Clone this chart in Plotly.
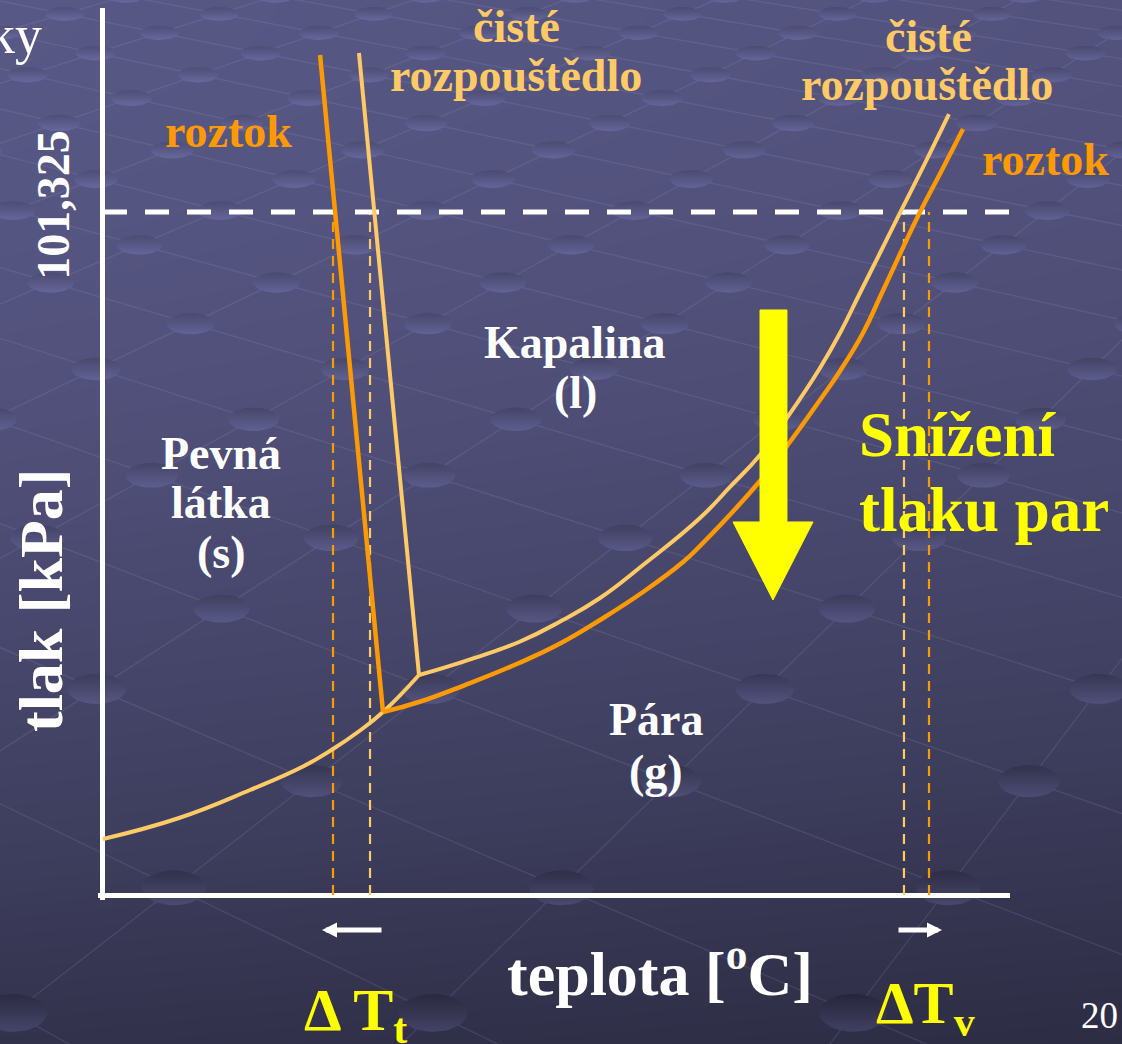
import numpy as np
import plotly.graph_objects as go

W, H = 1122, 1044
SERIF = "Liberation Serif"

# ---------------- phase diagram data ----------------
# temperature in diagram units (0-100), pressure in kPa
# sublimation curve of the pure solvent (solid-vapour), up to its triple point
subl_T = [0.0, 8.38, 16.21, 22.16, 25.36, 28.11, 30.87, 34.84]
subl_p = [8.31, 11.42, 15.58, 19.14, 21.66, 24.18, 27.15, 32.64]

# vapour-pressure curve of the pure solvent
vap_pure_T = [34.84, 39.91, 45.87, 50.50, 54.80, 59.54, 65.82, 69.13, 72.44,
              75.41, 79.05, 81.26, 83.46, 85.67, 87.87, 90.63, 93.27]
vap_pure_p = [32.64, 34.71, 37.53, 40.65, 44.06, 48.96, 55.93, 60.53, 65.28,
              70.77, 78.18, 83.37, 89.31, 95.24, 101.18, 108.59, 115.86]

# vapour-pressure curve of the solution
vap_sol_T = [30.87, 34.84, 39.91, 45.87, 50.50, 54.80, 59.54, 63.95, 65.82, 72.44,
             75.41, 79.05, 81.26, 83.79, 85.67, 87.87, 90.08, 92.50, 94.82]
vap_sol_p = [27.15, 28.63, 31.15, 34.42, 37.38, 40.80, 44.95, 49.40, 51.78, 61.42,
             66.61, 73.43, 77.74, 83.38, 88.71, 95.09, 101.32, 107.56, 113.64]

# melting curves (solid-liquid)
melt_pure_T = [34.84, 28.22]
melt_pure_p = [32.64, 124.91]
melt_sol_T = [30.87, 23.93]
melt_sol_p = [27.15, 124.62]

# normal pressure and the normal melting / boiling points
p_atm = 101.325
melt_points = {"roztok": 25.36, "rozpouštědlo": 29.44}
boil_points = {"rozpouštědlo": 88.31, "roztok": 91.07}

# big arrow: vapour pressure lowering
drop_T = [72.44, 75.41, 75.41, 78.28, 73.87, 69.46, 72.44, 72.44]
drop_p = [86.79, 86.79, 55.34, 55.34, 43.76, 55.34, 55.34, 86.79]

# ---------------- colours ----------------
C_PURE = "#FFC966"
C_SOL = "#FF9900"
C_WHITE = "#FFFFFF"
C_YELLOW = "#FFFF00"

# ---------------- axes geometry ----------------
X0_PX, X_UNIT = 103.0, 9.07           # pixel of T = 0, pixels per unit
Y0_PX, Y_UNIT = 895.0, 683.0 / 101.325  # pixel of p = 0, pixels per kPa
x_range = [-0.6, 100.0]
y_range = [-0.8, (Y0_PX - 8) / Y_UNIT]
x_domain = [(X0_PX + x_range[0] * X_UNIT) / W, (X0_PX + x_range[1] * X_UNIT) / W]
y_domain = [1 - (Y0_PX - y_range[0] * Y_UNIT) / H, 1 - (Y0_PX - y_range[1] * Y_UNIT) / H]

fig = go.Figure()


# ---------------- slide background ----------------
def shade(x, y):
    y = np.clip(y, 0, H)
    return 88 - 6 * (x / W) - 38 * (y / H) ** 1.7


def slate(level):
    level = float(level)
    return f"rgb({level:.0f},{level:.0f},{min(255.0, level * 1.52):.0f})"


gx = np.linspace(0, W, 24)
gy = np.linspace(0, H, 40)
GX, GY = np.meshgrid(gx, gy)
fig.add_trace(go.Heatmap(x=gx, y=gy, z=shade(GX, GY), zsmooth="best",
                         colorscale=[[0, slate(40)], [1, slate(90)]], zmin=40, zmax=90,
                         showscale=False, hoverinfo="skip", xaxis="x", yaxis="y"))

# perspective lattice of studs and their connecting lines
HORIZON = -567.0
ROW_K, ROW_Z0 = 18374.0, 12.63
COL_P, COL_SHEAR, COL_PHASE = 4888.0, 2050.0, 0.45


def lattice(i, n):
    z = ROW_Z0 + n
    return (COL_P * i + COL_SHEAR * n) / z, HORIZON + ROW_K / z


lx, ly = [], []
for k in range(-30, 31):
    for family in (0, 1):
        for n in range(-2, 80):
            i = k + COL_PHASE if family == 0 else k + COL_PHASE - n
            x, y = lattice(i, n)
            lx.append(x)
            ly.append(y)
        lx.append(None)
        ly.append(None)
fig.add_trace(go.Scatter(x=lx, y=ly, mode="lines", line=dict(color="rgba(165,165,215,0.15)", width=1.4),
                         hoverinfo="skip", xaxis="x", yaxis="y"))

theta = np.linspace(0, 2 * np.pi, 37)
for n in range(-1, 21):
    step = COL_P / (ROW_Z0 + n)
    w, h = 22 + 0.11 * step, 0.09 * step
    for k in range(-30, 31):
        cx, cy = lattice(k + COL_PHASE, n)
        if cx < -w or cx > W + w or cy < -h or cy > H + h:
            continue
        lvl = shade(cx, cy)
        fig.add_trace(go.Scatter(
            x=cx + w / 2 * np.cos(theta), y=cy + h / 2 * np.sin(theta),
            mode="lines", line=dict(width=0), fill="toself",
            fillgradient=dict(type="vertical", colorscale=[[0, slate(lvl + 17)], [1, slate(lvl - 9)]]),
            hoverinfo="skip", xaxis="x", yaxis="y"))

# ---------------- phase diagram ----------------
main = dict(xaxis="x2", yaxis="y2", hoverinfo="skip", mode="lines")
curve = dict(shape="spline", smoothing=1.3)

for name, t in list(melt_points.items()) + list(boil_points.items()):
    fig.add_trace(go.Scatter(x=[t, t], y=[0, p_atm],
                             line=dict(color=C_SOL if name == "roztok" else C_PURE, width=2.2, dash="10px,7px"),
                             **main))

fig.add_trace(go.Scatter(x=[0, 100], y=[p_atm, p_atm], line=dict(color=C_WHITE, width=5, dash="24px,18px"), **main))

fig.add_trace(go.Scatter(x=subl_T, y=subl_p, line=dict(color=C_PURE, width=4, **curve), **main))
fig.add_trace(go.Scatter(x=vap_pure_T, y=vap_pure_p, line=dict(color=C_PURE, width=4, **curve), **main))
fig.add_trace(go.Scatter(x=melt_pure_T, y=melt_pure_p, line=dict(color=C_PURE, width=4), **main))
fig.add_trace(go.Scatter(x=vap_sol_T, y=vap_sol_p, line=dict(color=C_SOL, width=4.5, **curve), **main))
fig.add_trace(go.Scatter(x=melt_sol_T, y=melt_sol_p, line=dict(color=C_SOL, width=4.5), **main))

fig.add_trace(go.Scatter(x=drop_T, y=drop_p, fill="toself", fillcolor=C_YELLOW,
                         line=dict(color=C_YELLOW, width=1), **main))


# ---------------- texts ----------------
def label(text, px, py, size, color, bold=True, xanchor="center", angle=0):
    fig.add_annotation(text=f"<b>{text}</b>" if bold else text, x=px / W, y=1 - py / H,
                       xref="paper", yref="paper", xanchor=xanchor, yanchor="middle",
                       showarrow=False, textangle=angle,
                       font=dict(family=SERIF, size=size, color=color))


label("ky", 44, 35, 54, C_WHITE, bold=False, xanchor="right")
label("čisté", 516, 27, 46, C_PURE)
label("rozpouštědlo", 516, 76, 46, C_PURE)
label("čisté", 928, 37, 46, C_PURE)
label("rozpouštědlo", 927, 84, 46, C_PURE)
label("roztok", 228, 131, 46, C_SOL)
label("roztok", 1045, 159, 46, C_SOL)
label("Pevná", 221, 453, 46, C_WHITE)
label("látka", 221, 502, 46, C_WHITE)
label("(s)", 221, 552, 46, C_WHITE)
label("Kapalina", 575, 342, 46, C_WHITE)
label("(l)", 575, 392, 46, C_WHITE)
label("Pára", 656, 719, 46, C_WHITE)
label("(g)", 656, 771, 46, C_WHITE)
label("Snížení", 857, 435, 63, C_YELLOW, xanchor="left")
label("tlaku par", 857, 510, 63, C_YELLOW, xanchor="left")
label("teplota [<sup>o</sup>C]", 660, 969, 62, C_WHITE)
label("Δ T<sub>t</sub>", 302, 1014, 60, C_YELLOW, xanchor="left")
label("ΔT<sub>v</sub>", 874, 1007, 60, C_YELLOW, xanchor="left")
label("20", 1120, 1015, 37, C_WHITE, bold=False, xanchor="right")
label("tlak [kPa]", 41, 600, 62, C_WHITE, angle=-90)

# shift arrows under the temperature axis
for head_px, tail_dx in ((322, 61), (942, -45)):
    fig.add_annotation(x=head_px / W, y=1 - 930 / H, xref="paper", yref="paper",
                       ax=tail_dx, ay=0, text="", showarrow=True,
                       arrowhead=2, arrowsize=0.6, arrowwidth=5, arrowcolor=C_WHITE)

fig.update_layout(
    width=W, height=H, margin=dict(l=0, r=0, t=0, b=0),
    paper_bgcolor=slate(66), plot_bgcolor="rgba(0,0,0,0)",
    showlegend=False, hovermode=False,
    xaxis=dict(domain=[0, 1], range=[0, W], visible=False, fixedrange=True),
    yaxis=dict(domain=[0, 1], range=[H, 0], visible=False, fixedrange=True),
    xaxis2=dict(domain=x_domain, range=x_range, anchor="y2", showgrid=False,
                showticklabels=False, ticks="", showline=False,
                zeroline=True, zerolinecolor=C_WHITE, zerolinewidth=5, fixedrange=True),
    yaxis2=dict(domain=y_domain, range=y_range, anchor="x2", showgrid=False, showline=False,
                zeroline=True, zerolinecolor=C_WHITE, zerolinewidth=5, fixedrange=True,
                tickmode="array", tickvals=[p_atm], ticktext=["<b>101,325</b>"],
                tickangle=-90, ticks="", ticklabelstandoff=18,
                tickfont=dict(family=SERIF, size=46, color=C_WHITE)),
)

fig.write_html("out.html")
